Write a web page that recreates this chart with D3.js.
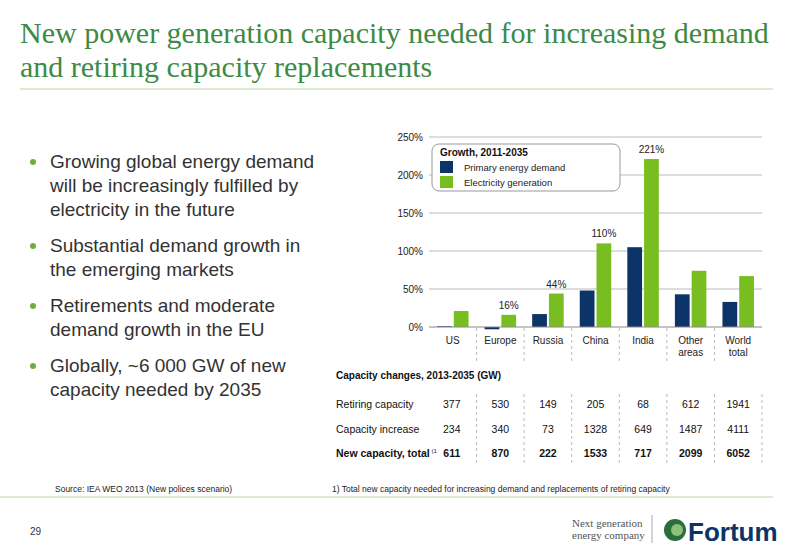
<!DOCTYPE html>
<html><head><meta charset="utf-8">
<script src="https://cdn.jsdelivr.net/npm/d3@7"></script>
<style>body{margin:0;background:#fff;font-family:"Liberation Sans",Arial,sans-serif}</style>
</head><body><svg id="c" width="800" height="554"></svg>
<script>
const categories = ["US", "Europe", "Russia", "China", "India", "Other areas", "World total"];
const primaryDemand = [1, -3, 17, 48, 105, 43, 33];
const electricity = [21, 16, 44, 110, 221, 74, 67];
const shownLabels = {1: "16%", 2: "44%", 3: "110%", 4: "221%"};
const yTicks = [0, 50, 100, 150, 200, 250];
const rowNames = ["Retiring capacity", "Capacity increase", "New capacity, total"];
const retiring = [377, 530, 149, 205, 68, 612, 1941];
const increase = [234, 340, 73, 1328, 649, 1487, 4111];
const total = [611, 870, 222, 1533, 717, 2099, 6052];
const bullets = [
  ["Growing global energy demand", "will be increasingly fulfilled by", "electricity in the future"],
  ["Substantial demand growth in", "the emerging markets"],
  ["Retirements and moderate", "demand growth in the EU"],
  ["Globally, ~6 000 GW of new", "capacity needed by 2035"]
];

const svg = d3.select("#c");
const green = "#78be20", blue = "#0d3468", titleGreen = "#3d8a46";

// title
svg.append("text").attr("x", 20).attr("y", 43).attr("font-family", "Liberation Serif, serif")
  .attr("font-size", 30).attr("fill", titleGreen)
  .selectAll("tspan").data(["New power generation capacity needed for increasing demand", "and retiring capacity replacements"])
  .join("tspan").attr("x", 20).attr("dy", (d, i) => i ? 34 : 0).text(d => d);
svg.append("line").attr("x1", 20).attr("x2", 773).attr("y1", 89).attr("y2", 89).attr("stroke", "#b8d8a0");

// bullets
let by = 168;
bullets.forEach(lines => {
  svg.append("circle").attr("cx", 33).attr("cy", by - 6).attr("r", 3).attr("fill", "#6fae3c");
  lines.forEach((l, i) => svg.append("text").attr("x", 50).attr("y", by + i * 24)
    .attr("font-size", 19).attr("fill", "#333").text(l));
  by += lines.length * 24 + 12;
});

// chart
const x = d3.scaleBand().domain(categories).range([429, 762]);
const y = d3.scaleLinear().domain([0, 250]).range([327, 137]);
const g = svg.append("g");
g.selectAll(".grid").data(yTicks.slice(1)).join("line")
  .attr("x1", 429).attr("x2", 762).attr("y1", d => y(d)).attr("y2", d => y(d))
  .attr("stroke", "#aaa").attr("stroke-width", 0.8);
g.append("g").attr("transform", "translate(429,0)")
  .call(d3.axisLeft(y).tickValues(yTicks).tickSize(0).tickPadding(6).tickFormat(d => d + "%"))
  .call(a => a.select(".domain").remove())
  .selectAll("text").attr("font-size", 10).attr("fill", "#222").attr("font-family", "Liberation Sans, Arial");

const bw = x.bandwidth() * 0.31;
g.selectAll(".pb").data(primaryDemand).join("rect")
  .attr("x", (d, i) => x(categories[i]) + x.bandwidth() / 2 - bw - 1)
  .attr("y", d => y(Math.max(0, d))).attr("width", bw)
  .attr("height", d => Math.abs(y(d) - y(0))).attr("fill", blue);
g.selectAll(".eb").data(electricity).join("rect")
  .attr("x", (d, i) => x(categories[i]) + x.bandwidth() / 2 + 1)
  .attr("y", d => y(d)).attr("width", bw)
  .attr("height", d => y(0) - y(d)).attr("fill", green);
g.selectAll(".lb").data(electricity).join("text")
  .attr("x", (d, i) => x(categories[i]) + x.bandwidth() / 2 + 1 + bw / 2)
  .attr("y", d => y(d) - 6).attr("text-anchor", "middle").attr("font-size", 10).attr("fill", "#222")
  .text((d, i) => shownLabels[i] || "");
g.append("line").attr("x1", 429).attr("x2", 762).attr("y1", y(0)).attr("y2", y(0)).attr("stroke", "#888");

// category labels
categories.forEach(c => {
  const words = c.split(" ");
  g.append("text").attr("x", x(c) + x.bandwidth() / 2).attr("y", 344).attr("text-anchor", "middle")
    .attr("font-size", 10).attr("fill", "#222")
    .selectAll("tspan").data(words).join("tspan").attr("x", x(c) + x.bandwidth() / 2)
    .attr("dy", (d, i) => i ? 12 : 0).text(d => d);
});
g.selectAll(".sep").data(categories.slice(1)).join("line")
  .attr("x1", d => x(d)).attr("x2", d => x(d)).attr("y1", 328).attr("y2", 362)
  .attr("stroke", "#bbb").attr("stroke-dasharray", "3,3");

// legend
const lg = svg.append("g");
lg.append("rect").attr("x", 432).attr("y", 144).attr("width", 188).attr("height", 47).attr("rx", 7)
  .attr("fill", "#fff").attr("stroke", "#999");
lg.append("text").attr("x", 440).attr("y", 156).attr("font-size", 10).attr("font-weight", "bold").attr("fill", "#111").text("Growth, 2011-2035");
[["Primary energy demand", blue], ["Electricity generation", green]].forEach((d, i) => {
  lg.append("rect").attr("x", 440).attr("y", 161 + i * 15).attr("width", 13).attr("height", 12).attr("fill", d[1]);
  lg.append("text").attr("x", 464).attr("y", 171 + i * 15).attr("font-size", 9.5).attr("fill", "#222").text(d[0]);
});

// table
svg.append("text").attr("x", 336).attr("y", 379).attr("font-size", 10).attr("font-weight", "bold").attr("fill", "#111").text("Capacity changes, 2013-2035 (GW)");
[retiring, increase, total].forEach((row, r) => {
  const ty = 408 + r * 24.5;
  const bold = r === 2 ? "bold" : "normal";
  const t = svg.append("text").attr("x", 336).attr("y", ty).attr("font-size", 10.5).attr("font-weight", bold).attr("fill", "#111").text(rowNames[r]);
  if (r === 2) t.append("tspan").attr("font-size", 6).attr("font-weight", "normal").attr("dy", -4).text(" (1");
  row.forEach((v, i) => svg.append("text").attr("x", x(categories[i]) + x.bandwidth() / 2 - (i === 0 ? 1 : 0))
    .attr("y", ty).attr("text-anchor", "middle").attr("font-size", 10.5).attr("font-weight", bold).attr("fill", "#111").text(v));
});
svg.selectAll(".tsep").data(categories.slice(1).concat([null])).join("line")
  .attr("x1", d => d ? x(d) : 762).attr("x2", d => d ? x(d) : 762).attr("y1", 394).attr("y2", 465)
  .attr("stroke", "#bbb").attr("stroke-dasharray", "3,3");

// footer
svg.append("text").attr("x", 55).attr("y", 492).attr("font-size", 8.5).attr("fill", "#222").text("Source: IEA WEO 2013 (New polices scenario)");
svg.append("text").attr("x", 332).attr("y", 492).attr("font-size", 8.5).attr("fill", "#222").text("1)   Total new capacity needed for increasing demand and replacements of retiring capacity");
svg.append("line").attr("x1", 0).attr("x2", 773).attr("y1", 497).attr("y2", 497).attr("stroke", "#b8d8a0");
svg.append("text").attr("x", 30).attr("y", 535).attr("font-size", 10).attr("fill", "#333").text("29");
svg.append("text").attr("x", 572).attr("y", 527).attr("font-family", "Liberation Serif, serif").attr("font-size", 11).attr("fill", "#555").text("Next generation");
svg.append("text").attr("x", 572).attr("y", 539).attr("font-family", "Liberation Serif, serif").attr("font-size", 11).attr("fill", "#555").text("energy company");
svg.append("line").attr("x1", 652).attr("x2", 652).attr("y1", 515).attr("y2", 543).attr("stroke", "#aaa");
svg.append("circle").attr("cx", 675).attr("cy", 530).attr("r", 11).attr("fill", "#2a6e3a");
svg.append("circle").attr("cx", 677).attr("cy", 530).attr("r", 6).attr("fill", "#8ac27a");
svg.append("text").attr("x", 688).attr("y", 541).attr("font-size", 26).attr("font-weight", "bold").attr("fill", "#0d3468").text("Fortum");
</script></body></html>
